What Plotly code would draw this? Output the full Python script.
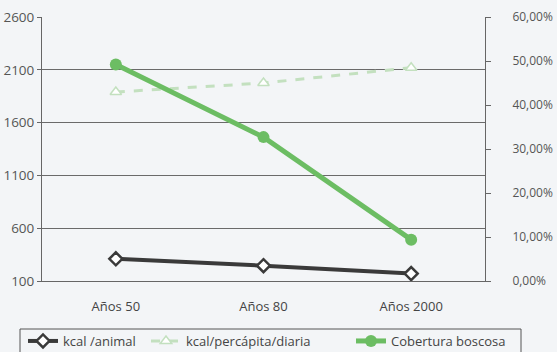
import plotly.graph_objects as go

categories = ["Años 50", "Años 80", "Años 2000"]
kcal_animal = [310, 245, 170]
kcal_percapita = [1890, 1975, 2120]
cobertura = [0.492, 0.327, 0.094]

left_ticks = [100, 600, 1100, 1600, 2100, 2600]
right_ticks = [0, 0.1, 0.2, 0.3, 0.4, 0.5, 0.6]

font_family = "Open Sans, Lato, sans-serif"
bg = "#f3f5f7"
W, H = 557, 352
fig = go.Figure()
fig.add_trace(go.Scatter(
    x=categories, y=kcal_animal, name="kcal /animal", mode="lines+markers",
    line=dict(color="#3a3a3a", width=4),
    marker=dict(symbol="diamond", size=10, color="white", line=dict(color="#3a3a3a", width=2.5)),
    yaxis="y", legend="legend"))
fig.add_trace(go.Scatter(
    x=categories, y=kcal_percapita, name="kcal/percápita/diaria", mode="lines+markers",
    line=dict(color="#c3e0bf", width=3, dash="dash"),
    marker=dict(symbol="triangle-up", size=10, color="white", line=dict(color="#c3e0bf", width=1.5)),
    yaxis="y", legend="legend2"))
fig.add_trace(go.Scatter(
    x=categories, y=cobertura, name="Cobertura boscosa", mode="lines+markers",
    line=dict(color="#6cbd63", width=5),
    marker=dict(symbol="circle", size=12, color="#6cbd63"),
    yaxis="y2", legend="legend3"))

leg_common = dict(orientation="h", xref="container", yref="container",
                  y=(H - 341) / H, yanchor="middle", xanchor="left",
                  bgcolor="rgba(0,0,0,0)", borderwidth=0, itemwidth=30,
                  font=dict(size=13, color="#444444"))

fig.update_layout(
    width=W, height=H,
    margin=dict(l=42, r=72, t=17, b=71, autoexpand=False),
    paper_bgcolor=bg, plot_bgcolor=bg,
    separators=",.",
    font=dict(family=font_family, size=13, color="#555555"),
    xaxis=dict(type="category", range=[-0.5, 2.5], showgrid=False, automargin=False,
               showline=True, linecolor="#666666", linewidth=1,
               ticks="", ticklabelstandoff=13, tickfont=dict(size=13, color="#444444")),
    yaxis=dict(range=[100, 2600], tickvals=left_ticks, showgrid=True, automargin=False,
               gridcolor="#6a6a6a", gridwidth=1, showline=True, linecolor="#666666",
               ticks="outside", ticklen=4, tickcolor="#666666", zeroline=False,
               tickfont=dict(size=13.5, color="#555555")),
    yaxis2=dict(range=[0, 0.6], tickvals=right_ticks, tickformat=".2%", automargin=False,
                overlaying="y", side="right", showgrid=False, showline=True,
                linecolor="#666666", ticks="outside", ticklen=5, tickcolor="#666666",
                zeroline=False, ticklabelstandoff=19,
                tickfont=dict(size=12, color="#555555")),
    legend=dict(x=23 / W, **leg_common),
    legend2=dict(x=146 / W, **leg_common),
    legend3=dict(x=351 / W, **leg_common),
    showlegend=True,
    shapes=[dict(type="rect", xref="paper", yref="paper",
                 x0=(20 - 42) / 443, x1=(521 - 42) / 443,
                 y0=(281 - 358) / 264, y1=(281 - 329) / 264,
                 line=dict(color="#555555", width=1), fillcolor="rgba(0,0,0,0)")],
)
fig.write_html("out.html")
